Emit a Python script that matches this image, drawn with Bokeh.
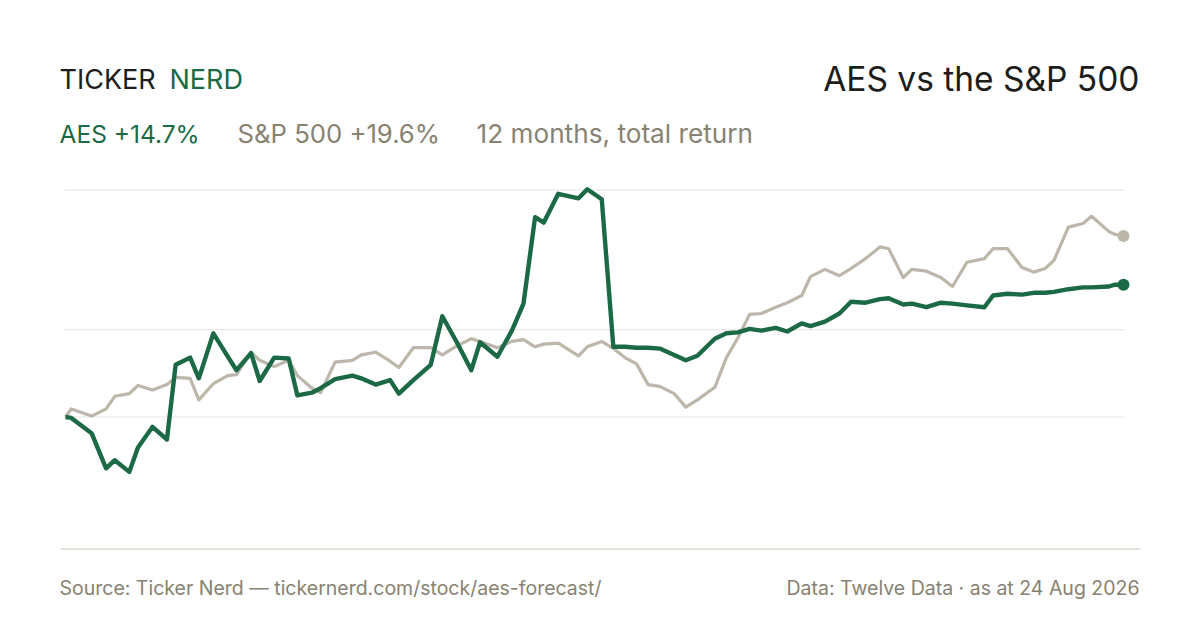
from bokeh.plotting import figure
from bokeh.models import Range1d, Label
from bokeh.embed import file_html
from bokeh.resources import INLINE

# ---------------- data ----------------
# calendar days since the start of the 12-month window
days = [0, 2, 9, 14, 17, 22, 25, 30, 35, 38,
        43, 46, 51, 56, 59, 64, 67, 72, 77, 80,
        85, 88, 93, 99, 102, 107, 112, 115, 120, 126,
        130, 135, 140, 143, 149, 154, 158, 162, 165, 170,
        177, 180, 185, 189, 193, 197, 201, 205, 210, 214,
        218, 224, 228, 232, 236, 240, 245, 249, 254, 257,
        262, 267, 271, 276, 281, 284, 289, 292, 297, 302,
        306, 311, 317, 320, 325, 330, 334, 338, 341, 346,
        351, 354, 360, 362, 365]

# cumulative total return, %
aes = [0.0, -0.1, -1.8, -5.7, -4.8, -6.1, -3.4, -1.1, -2.5, 5.8,
       6.6, 4.3, 9.3, 6.7, 5.2, 7.1, 4.0, 6.6, 6.5, 2.4,
       2.7, 3.2, 4.2, 4.6, 4.3, 3.6, 4.1, 2.6, 4.1, 5.8,
       11.2, 8.3, 5.2, 8.3, 6.7, 9.6, 12.6, 22.2, 21.6, 24.8,
       24.3, 25.3, 24.2, 7.8, 7.8, 7.7, 7.7, 7.6, 6.9, 6.3,
       6.8, 8.7, 9.3, 9.4, 9.8, 9.6, 9.9, 9.5, 10.4, 10.1,
       10.6, 11.5, 12.8, 12.7, 13.1, 13.2, 12.5, 12.6, 12.2, 12.7,
       12.6, 12.4, 12.2, 13.5, 13.7, 13.6, 13.8, 13.8, 13.9, 14.2,
       14.4, 14.4, 14.5, 14.7, 14.7]

spx = [0.0, 0.9, 0.1, 0.9, 2.3, 2.6, 3.5, 3.0, 3.6, 4.4,
       4.3, 1.9, 3.7, 4.6, 4.7, 7.2, 6.3, 5.6, 6.3, 4.6,
       3.2, 2.7, 6.1, 6.3, 6.9, 7.2, 6.2, 5.5, 7.7, 7.7,
       6.9, 7.9, 8.7, 8.4, 7.7, 8.4, 8.6, 7.8, 8.1, 8.2,
       6.8, 7.8, 8.4, 7.6, 6.6, 5.9, 3.6, 3.4, 2.6, 1.1,
       1.9, 3.3, 6.6, 8.8, 11.4, 11.5, 12.2, 12.7, 13.5, 15.6,
       16.4, 15.7, 16.5, 17.6, 18.9, 18.7, 15.5, 16.4, 16.2, 15.5,
       14.5, 17.2, 17.6, 18.7, 18.7, 16.6, 16.1, 16.5, 17.4, 21.1,
       21.5, 22.3, 20.6, 20.3, 20.1]

grid_values = [0.0, 9.7, 25.2]

brand_left = "TICKER"
brand_right = "NERD"
title_text = "AES vs the S&P 500"
aes_label = "AES +14.7%"
spx_label = "S&P 500 +19.6%"
period_label = "12 months, total return"
source_text = "Source: Ticker Nerd \u2014 tickernerd.com/stock/aes-forecast/"
data_text = "Data: Twelve Data \u00b7 as at 24 Aug 2026"

# ---------------- style / layout ----------------
W, H = 1184, 614
GREEN = "#1b6a45"
GREY_LINE = "#bdb6ab"
GREY_TEXT = "#878272"
DARK = "#1d1d1b"
GRID = "#ebe8e3"
BASE = "#dcd8cf"
FONT = "Inter"

# pixel placement of the plot area (canvas coordinates)
X0_PX, X1_PX = 65.0, 1123.0          # first / last day
ZERO_PX, PX_PER_PCT = 416.5, 9.0     # 0 % line and scale

d0, d1 = days[0], days[-1]
px_per_day = (X1_PX - X0_PX) / (d1 - d0)
days_range = Range1d(d0 - X0_PX / px_per_day, d1 + (W - X1_PX) / px_per_day)
ret_range = Range1d(-(H - ZERO_PX) / PX_PER_PCT, ZERO_PX / PX_PER_PCT)

p = figure(width=W, height=H, x_range=Range1d(0, W), y_range=Range1d(H, 0),
           x_axis_type=None, y_axis_type=None, toolbar_location=None,
           output_backend="svg", min_border=0)
p.outline_line_color = None
p.xgrid.visible = False
p.ygrid.visible = False
p.background_fill_color = "white"
p.border_fill_color = "white"
p.extra_x_ranges = {"days": days_range}
p.extra_y_ranges = {"ret": ret_range}

# gridlines
p.segment(x0=[d0 - 0.3] * len(grid_values), x1=[d1 + 0.3] * len(grid_values),
          y0=grid_values, y1=grid_values, line_color=GRID, line_width=1.2,
          x_range_name="days", y_range_name="ret")

# baseline
p.segment(x0=[60], x1=[1140], y0=[548.5], y1=[548.5], line_color=BASE, line_width=1.6)

# series
p.line(days, spx, line_color=GREY_LINE, line_width=3.2, line_join="round",
       x_range_name="days", y_range_name="ret")
p.line(days, aes, line_color=GREEN, line_width=4.4, line_join="round",
       x_range_name="days", y_range_name="ret")
p.scatter([days[-1]], [spx[-1]], size=12, fill_color=GREY_LINE, line_color=None,
          x_range_name="days", y_range_name="ret")
p.scatter([days[-1]], [aes[-1]], size=12, fill_color=GREEN, line_color=None,
          x_range_name="days", y_range_name="ret")


def lab(x, y, t, size, color, align="left"):
    p.add_layout(Label(x=x, y=y, text=t, text_font=FONT, text_font_size=f"{size}px",
                       text_color=color, text_align=align, text_baseline="alphabetic"))


lab(59, 79.3, brand_left, 27, DARK)
lab(169, 79.3, brand_right, 27, GREEN)
lab(1139, 78, title_text, 33.5, DARK, "right")
lab(59, 133, aes_label, 24.5, GREEN)
lab(237, 133, spx_label, 25.7, GREY_TEXT)
lab(476, 133, period_label, 26.2, GREY_TEXT)
lab(59, 587, source_text, 19.5, GREY_TEXT)
lab(1139, 587, data_text, 19.5, GREY_TEXT, "right")

open("out.html", "w").write(file_html(p, INLINE))
